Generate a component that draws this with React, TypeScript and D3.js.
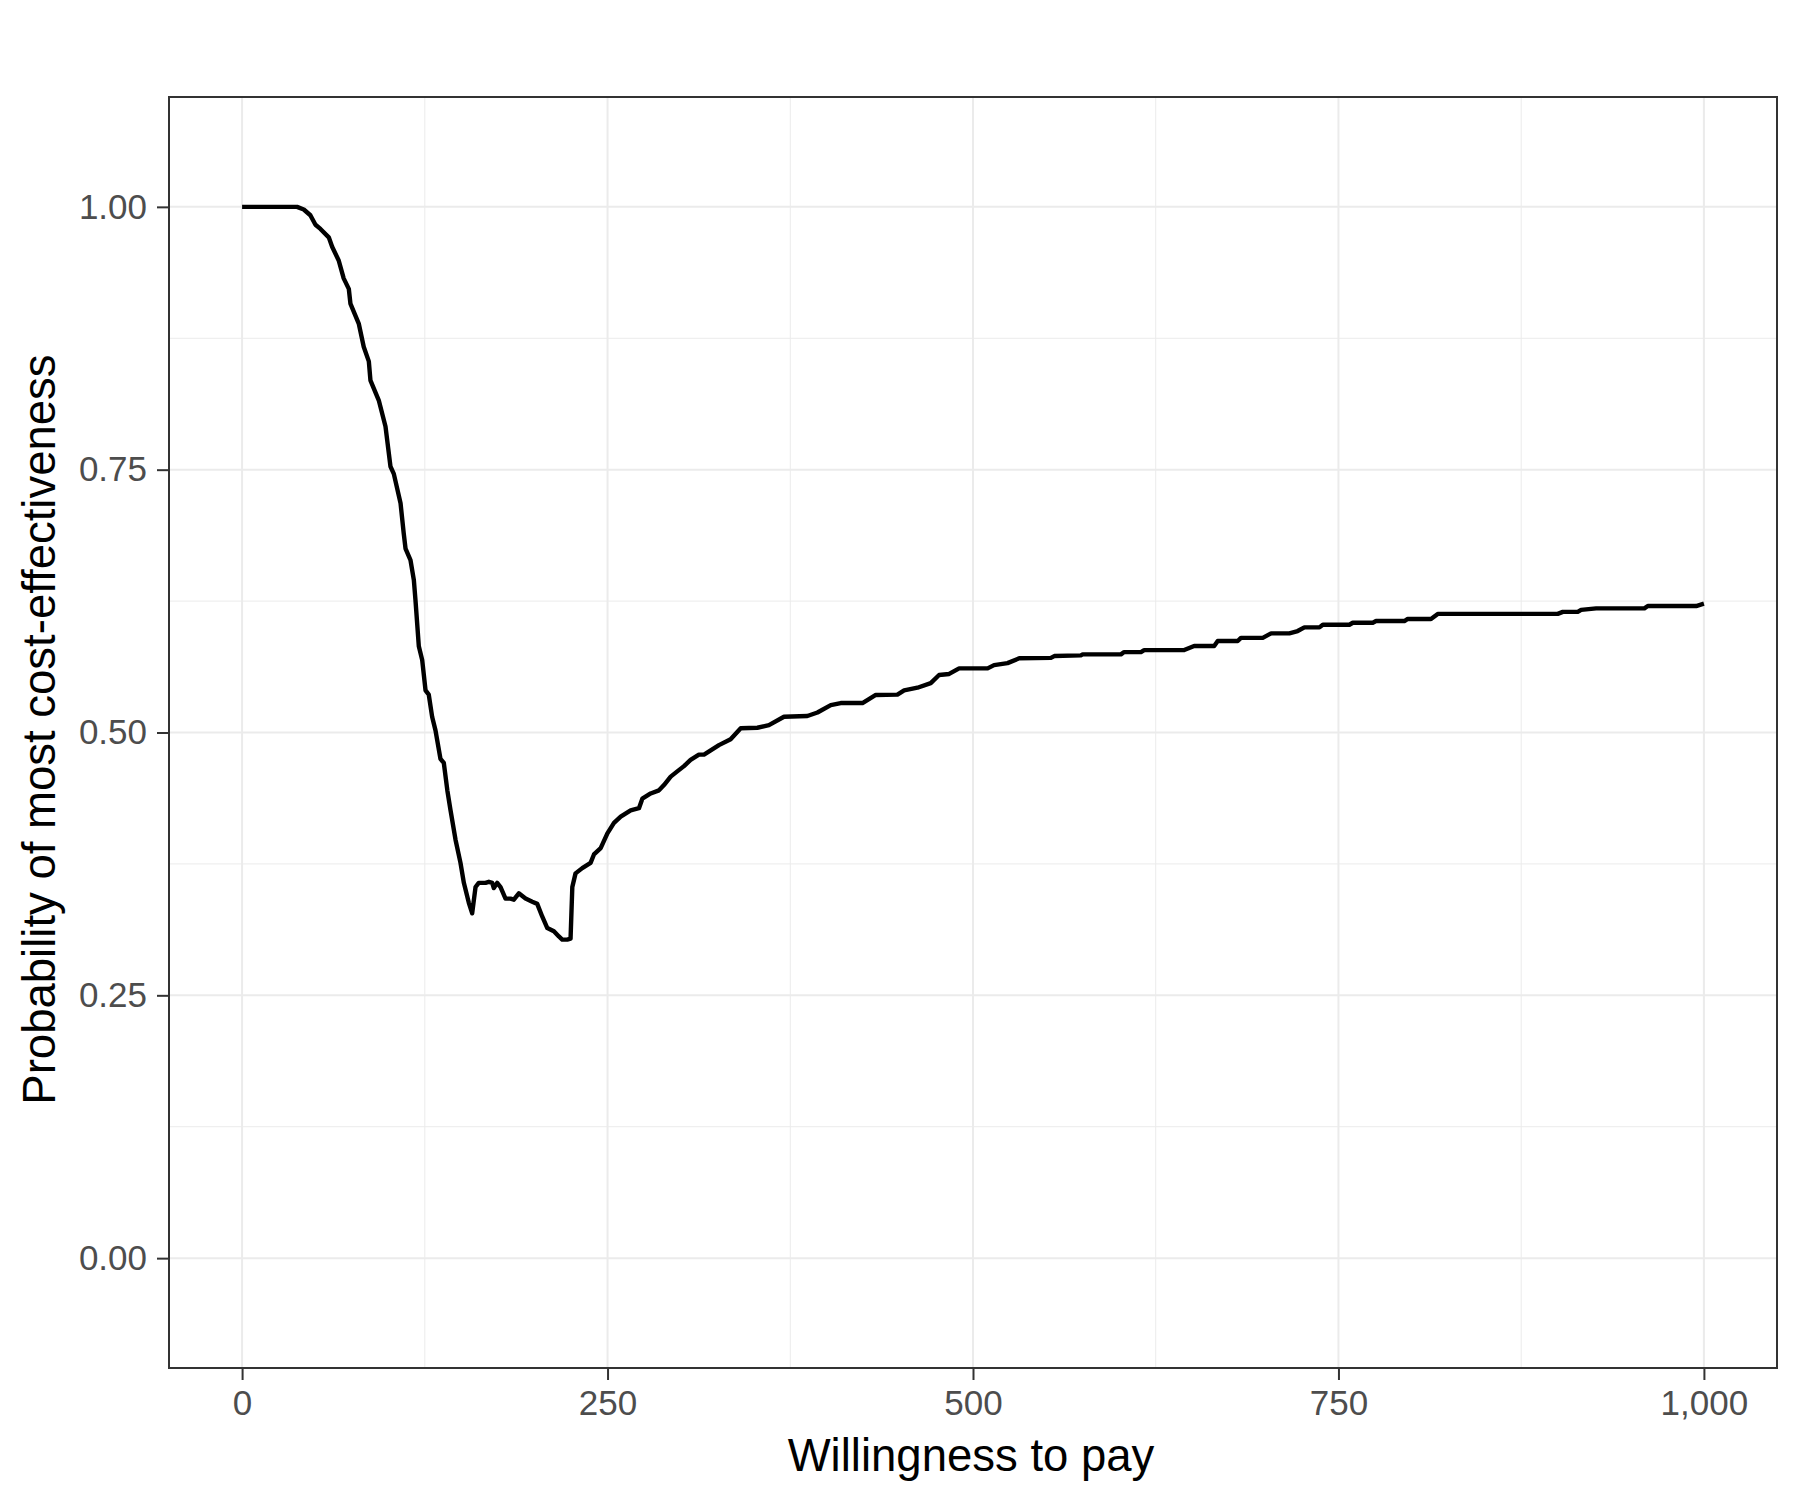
import { useEffect, useRef } from 'react';
import * as d3 from 'd3';

// Willingness to pay (x) and probability of being most cost-effective (y)
const wtp = [
  0, 37.6, 42.2, 46.7, 50.2, 53.6, 59.3, 61.6, 66.1, 69.5, 73, 74.1, 79.8, 83.2, 86.7, 87.8, 93.5, 98.1,
  101.5, 103.8, 108.4, 110.6, 111.8, 115.2, 117.5, 118.6, 120.9, 123.2, 125.5, 127.7, 130, 132.3, 135.7,
  138, 140.4, 142.6, 146, 149.4, 151.7, 155.1, 157.4, 159.7, 161.9, 166.5, 168.8, 171.1, 172.2, 174.5,
  176.8, 180.2, 183.6, 185.9, 189.3, 193.9, 198.5, 201.9, 205.3, 208.8, 213.3, 216.7, 219, 222.4, 224.7,
  225.9, 228.1, 232.7, 238.4, 240.7, 245.3, 249.9, 254.4, 259, 265.8, 271.5, 273.8, 279.5, 285.2, 288.6,
  293.2, 297.7, 302.3, 306.8, 312.5, 316, 326.2, 334.2, 341.1, 352.5, 360.4, 370.7, 386.7, 393.6, 402.7,
  409.5, 424.4, 433.5, 448.3, 452.9, 462, 471.1, 476.8, 483.7, 490.5, 510, 514.4, 523.6, 531.6, 553.3,
  555.6, 573.8, 575, 601.2, 603.4, 614.9, 617.1, 644.5, 651.3, 665, 667.4, 681.1, 683.3, 698.2, 703.9,
  716.4, 722.1, 726.7, 737, 739.3, 757.5, 759.8, 773.5, 775.7, 795.1, 797.4, 813.3, 817.9, 900, 903.5,
  913.7, 916, 926.3, 959.3, 961.6, 994.7, 1000,
];
const prob = [
  1.0, 1.0, 0.9975, 0.992, 0.983, 0.979, 0.971, 0.962, 0.949, 0.932, 0.922, 0.908, 0.889, 0.867, 0.853,
  0.835, 0.816, 0.791, 0.753, 0.746, 0.718, 0.689, 0.675, 0.664, 0.645, 0.626, 0.582, 0.569, 0.54, 0.536,
  0.515, 0.502, 0.475, 0.471, 0.445, 0.426, 0.398, 0.376, 0.357, 0.338, 0.328, 0.353, 0.357, 0.357,
  0.358, 0.357, 0.352, 0.357, 0.353, 0.342, 0.342, 0.341, 0.347, 0.342, 0.339, 0.337, 0.325, 0.314,
  0.311, 0.306, 0.303, 0.303, 0.304, 0.353, 0.366, 0.371, 0.376, 0.384, 0.39, 0.404, 0.414, 0.42, 0.426,
  0.428, 0.437, 0.442, 0.445, 0.45, 0.458, 0.463, 0.468, 0.474, 0.479, 0.479, 0.488, 0.4935, 0.504,
  0.5045, 0.507, 0.515, 0.5157, 0.519, 0.526, 0.528, 0.528, 0.5357, 0.536, 0.54, 0.5426, 0.547, 0.5547,
  0.5557, 0.561, 0.561, 0.5641, 0.566, 0.5706, 0.571, 0.5727, 0.5734, 0.5743, 0.5743, 0.5765, 0.5765,
  0.5784, 0.5784, 0.5823, 0.5823, 0.587, 0.587, 0.59, 0.59, 0.5943, 0.5943, 0.5965, 0.6, 0.6, 0.6025,
  0.6025, 0.6044, 0.6044, 0.606, 0.606, 0.608, 0.608, 0.6128, 0.6128, 0.6147, 0.6147, 0.6166, 0.6181,
  0.6181, 0.6203, 0.6203, 0.6225,
];

const xTicks = [0, 250, 500, 750, 1000];
const xMinor = [125, 375, 625, 875];
const yTicks = [0, 0.25, 0.5, 0.75, 1];
const yMinor = [0.125, 0.375, 0.625, 0.875];

const xLabel = 'Willingness to pay';
const yLabel = 'Probability of most cost-effectiveness';

export default function App() {
  const svgRef = useRef<SVGSVGElement>(null);

  useEffect(() => {
    if (!svgRef.current) return;
    const width = 1800;
    const height = 1500;
    const margin = { top: 97, right: 23, bottom: 132, left: 169 };
    const innerWidth = width - margin.left - margin.right;
    const innerHeight = height - margin.top - margin.bottom;
    const font = '"Liberation Sans", Arial, Helvetica, sans-serif';

    const svg = d3.select(svgRef.current);
    svg.selectAll('*').remove();
    svg.attr('width', width).attr('height', height);

    svg.append('rect').attr('width', width).attr('height', height).attr('fill', '#fff');

    const x = d3.scaleLinear().domain([-50, 1050]).range([0, innerWidth]);
    const y = d3.scaleLinear().domain([-0.1045, 1.1045]).range([innerHeight, 0]);

    const g = svg.append('g').attr('transform', `translate(${margin.left},${margin.top})`);

    // grid
    g.selectAll('line.xminor')
      .data(xMinor)
      .enter()
      .append('line')
      .attr('x1', (d) => x(d))
      .attr('x2', (d) => x(d))
      .attr('y1', 0)
      .attr('y2', innerHeight)
      .attr('stroke', '#ebebeb')
      .attr('stroke-width', 1);
    g.selectAll('line.yminor')
      .data(yMinor)
      .enter()
      .append('line')
      .attr('x1', 0)
      .attr('x2', innerWidth)
      .attr('y1', (d) => y(d))
      .attr('y2', (d) => y(d))
      .attr('stroke', '#ebebeb')
      .attr('stroke-width', 1);
    g.selectAll('line.xmajor')
      .data(xTicks)
      .enter()
      .append('line')
      .attr('x1', (d) => x(d))
      .attr('x2', (d) => x(d))
      .attr('y1', 0)
      .attr('y2', innerHeight)
      .attr('stroke', '#ebebeb')
      .attr('stroke-width', 2);
    g.selectAll('line.ymajor')
      .data(yTicks)
      .enter()
      .append('line')
      .attr('x1', 0)
      .attr('x2', innerWidth)
      .attr('y1', (d) => y(d))
      .attr('y2', (d) => y(d))
      .attr('stroke', '#ebebeb')
      .attr('stroke-width', 2);

    // curve
    const pts = wtp.map((w, i) => [w, prob[i]] as [number, number]);
    const line = d3
      .line<[number, number]>()
      .x((d) => x(d[0]))
      .y((d) => y(d[1]));
    g.append('path')
      .attr('d', line(pts))
      .attr('fill', 'none')
      .attr('stroke', '#000')
      .attr('stroke-width', 4.4)
      .attr('stroke-linejoin', 'round')
      .attr('stroke-linecap', 'butt');

    // border
    g.append('rect')
      .attr('width', innerWidth)
      .attr('height', innerHeight)
      .attr('fill', 'none')
      .attr('stroke', '#333')
      .attr('stroke-width', 2);

    // X axis
    const xAxis = g
      .append('g')
      .attr('transform', `translate(0,${innerHeight})`)
      .call(
        d3
          .axisBottom(x)
          .tickValues(xTicks)
          .tickSize(12)
          .tickPadding(10)
          .tickFormat((d) => d3.format(',')(d as number))
      );
    xAxis.select('.domain').remove();
    xAxis.selectAll('line').attr('stroke', '#333').attr('stroke-width', 2);
    xAxis
      .selectAll('text')
      .attr('fill', '#4d4d4d')
      .style('font-family', font)
      .style('font-size', '35px');

    // Y axis
    const yAxis = g
      .append('g')
      .call(
        d3
          .axisLeft(y)
          .tickValues(yTicks)
          .tickSize(12)
          .tickPadding(10)
          .tickFormat((d) => d3.format('.2f')(d as number))
      );
    yAxis.select('.domain').remove();
    yAxis.selectAll('line').attr('stroke', '#333').attr('stroke-width', 2);
    yAxis
      .selectAll('text')
      .attr('fill', '#4d4d4d')
      .style('font-family', font)
      .style('font-size', '35px');

    // titles
    svg
      .append('text')
      .attr('x', margin.left + innerWidth / 2 - 2)
      .attr('y', 1471)
      .attr('text-anchor', 'middle')
      .attr('fill', '#000')
      .style('font-family', font)
      .style('font-size', '45.5px')
      .text(xLabel);
    svg
      .append('text')
      .attr('transform', `translate(55,${margin.top + innerHeight / 2 - 3}) rotate(-90)`)
      .attr('text-anchor', 'middle')
      .attr('fill', '#000')
      .style('font-family', font)
      .style('font-size', '45.5px')
      .text(yLabel);
  }, []);

  return <svg ref={svgRef} style={{ position: 'absolute', left: 0, top: 0, display: 'block' }} />;
}
